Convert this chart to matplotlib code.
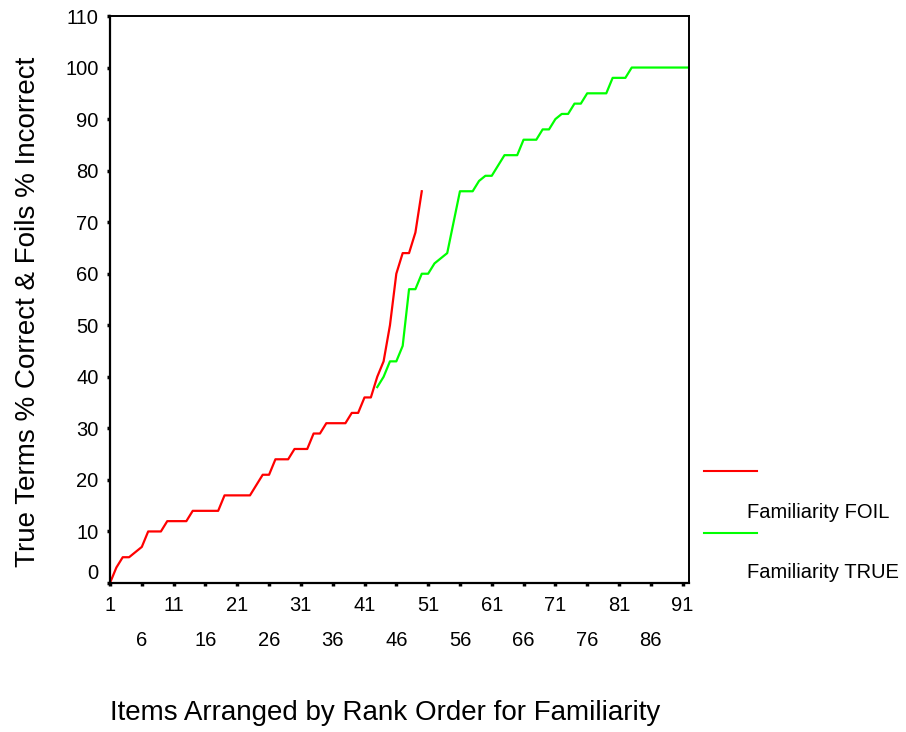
import matplotlib
matplotlib.use('Agg')
import matplotlib.pyplot as plt
from matplotlib.lines import Line2D

plt.rcParams['font.family'] = ['Liberation Sans', 'DejaVu Sans']

# Familiarity FOIL (% incorrect), items 1..50
foil_items = list(range(1, 51))
foil_vals = [0, 3, 5, 5, 6, 7, 10, 10, 10, 12,
             12, 12, 12, 14, 14, 14, 14, 14, 17, 17,
             17, 17, 17, 19, 21, 21, 24, 24, 24, 26,
             26, 26, 29, 29, 31, 31, 31, 31, 33, 33,
             36, 36, 40, 43, 50, 60, 64, 64, 68, 76]

# Familiarity TRUE (% correct), items 43..92
true_items = list(range(43, 93))
true_vals = [38, 40, 43, 43, 46, 57, 57, 60, 60, 62,
             63, 64, 70, 76, 76, 76, 78, 79, 79, 81,
             83, 83, 83, 86, 86, 86, 88, 88, 90, 91,
             91, 93, 93, 95, 95, 95, 95, 98, 98, 98,
             100, 100, 100, 100, 100, 100, 100, 100, 100, 100]

xticks_top = [1, 11, 21, 31, 41, 51, 61, 71, 81, 91]
xticks_low = [6, 16, 26, 36, 46, 56, 66, 76, 86]
yticks = list(range(0, 111, 10))

fig = plt.figure(figsize=(9.06, 7.32), dpi=100)
ax = fig.add_axes([110/906, 149/732, 579/906, 567/732])

ax.plot(foil_items, foil_vals, color='#ff0000', linewidth=1.6)
ax.plot(true_items, true_vals, color='#00ff00', linewidth=1.6)

ax.set_xlim(1, 92)
ax.set_ylim(0, 110)

ax.set_yticks(yticks)
ax.set_xticks(xticks_top)
ax.set_xticks(xticks_low, minor=True)
ax.set_xticklabels([str(v) for v in xticks_top])
ax.set_xticklabels([str(v) for v in xticks_low], minor=True)

ax.tick_params(axis='both', which='both', direction='out', length=2.2, width=2.5,
               color='black', labelsize=14.5)
ax.tick_params(axis='x', which='major', pad=7)
ax.tick_params(axis='x', which='minor', pad=32)
ax.tick_params(axis='y', pad=6)

# the "0" label sits a bit above the bottom axis
ax.get_yticklabels()[0].set_va('bottom')

for side in ['left', 'bottom']:
    ax.spines[side].set_linewidth(1.6)
for side in ['top', 'right']:
    ax.spines[side].set_linewidth(1.4)

fig.text(28/906, 1 - 312/732, 'True Terms % Correct & Foils % Incorrect',
         rotation=90, ha='center', va='center', fontsize=20)
fig.text(385/906, 1 - 713/732, 'Items Arranged by Rank Order for Familiarity',
         ha='center', va='center', fontsize=20)

# legend, SPSS style: line sample above its label
fig.add_artist(Line2D([704/906, 757/906], [1 - 471/732, 1 - 471/732],
                      color='#ff0000', linewidth=1.5))
fig.text(747/906, 1 - 512/732, 'Familiarity FOIL', ha='left', va='center', fontsize=14.5)
fig.add_artist(Line2D([704/906, 757/906], [1 - 533/732, 1 - 533/732],
                      color='#00ff00', linewidth=1.5))
fig.text(747/906, 1 - 573/732, 'Familiarity TRUE', ha='left', va='center', fontsize=14.5)

fig.savefig('out.png', dpi=100)
